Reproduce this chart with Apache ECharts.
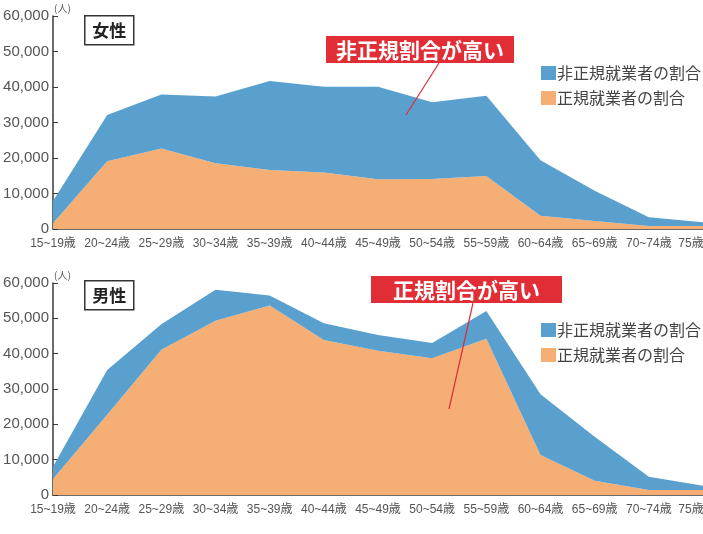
<!DOCTYPE html>
<html>
<head>
<meta charset="utf-8">
<script src="https://cdn.jsdelivr.net/npm/echarts@6/dist/echarts.min.js"></script>
<style>
  html, body { margin: 0; padding: 0; background: #fff; }
  #chart { width: 703px; height: 534px; }
</style>
</head>
<body>
<div id="chart"></div>
<script>
  // 年齢階級
  var ageGroups = ['15~19歳', '20~24歳', '25~29歳', '30~34歳', '35~39歳', '40~44歳', '45~49歳',
    '50~54歳', '55~59歳', '60~64歳', '65~69歳', '70~74歳', '75歳以上'];
  var yTicks = [0, 10000, 20000, 30000, 40000, 50000, 60000];

  // 女性（人）
  var femaleRegular = [1600, 19100, 22700, 18500, 16600, 15900, 14000, 14100, 14900, 3750, 2250, 850, 850];
  var femaleNonRegular = [6300, 13000, 15200, 18800, 25100, 24200, 26100, 21600, 22650, 15650, 8550, 2450, 1050];

  // 男性（人）
  var maleRegular = [4500, 22700, 41100, 49300, 53600, 43900, 40800, 38700, 44200, 11300, 4000, 1400, 1400];
  var maleNonRegular = [3500, 12700, 7250, 8800, 2850, 4700, 4500, 4300, 7900, 17200, 12500, 3800, 1200];

  var blue = '#59a0cf';
  var orange = '#f5ae74';
  var red = '#e02d36';
  var axisColor = '#3a3a3a';
  var labelFont = '"Liberation Sans Narrow", "Liberation Sans", "Noto Sans CJK JP", sans-serif';

  var chart = echarts.init(document.getElementById('chart'));

  function xAxisFor(idx) {
    return {
      type: 'category',
      gridIndex: idx,
      data: ageGroups,
      boundaryGap: false,
      axisLine: { lineStyle: { color: axisColor, width: 1.5 } },
      axisTick: { inside: true, length: 7, lineStyle: { color: axisColor } },
      axisLabel: {
        interval: 0, color: '#555', fontSize: 12, margin: 9,
        fontFamily: labelFont, hideOverlap: false
      }
    };
  }

  function yAxisFor(idx) {
    return {
      type: 'value',
      gridIndex: idx,
      min: 0, max: 60000, interval: 10000,
      splitLine: { show: false },
      axisLine: { show: true, lineStyle: { color: axisColor, width: 1.5 } },
      axisTick: { show: true, inside: true, length: 5, lineStyle: { color: axisColor } },
      axisLabel: {
        color: '#555', fontSize: 15, margin: 4, fontFamily: labelFont,
        formatter: function (v) { return yTicks.indexOf(v) >= 0 ? v.toLocaleString('en-US') : ''; }
      }
    };
  }

  function areaSeries(name, data, idx, color, stack) {
    return {
      name: name,
      type: 'line',
      xAxisIndex: idx,
      yAxisIndex: idx,
      stack: stack,
      data: data,
      symbol: 'none',
      lineStyle: { width: 0 },
      areaStyle: { color: color, opacity: 1 },
      itemStyle: { color: color },
      silent: true
    };
  }

  function legendFor(top) {
    return {
      orient: 'vertical',
      left: 536,
      top: top,
      itemWidth: 15,
      itemHeight: 14,
      itemGap: 9,
      icon: 'rect',
      data: ['非正規就業者の割合', '正規就業者の割合'],
      textStyle: { color: '#444', fontSize: 16, padding: [0, 0, 0, -4],
        fontFamily: '"Noto Sans CJK JP", sans-serif' }
    };
  }

  function titleBox(top, text) {
    return {
      type: 'group',
      left: 84,
      top: top,
      children: [
        { type: 'rect', shape: { x: 0, y: 0, width: 49, height: 29 },
          style: { fill: '#fff', stroke: '#333', lineWidth: 1.5 } },
        { type: 'text', x: 24.5, y: 14.5,
          style: { text: text, fill: '#222', font: 'bold 17px "Noto Sans CJK JP", sans-serif',
            align: 'center', verticalAlign: 'middle' } }
      ]
    };
  }

  function callout(x, y, w, text, lx1, ly1, lx2, ly2) {
    return [
      { type: 'line', shape: { x1: lx1, y1: ly1, x2: lx2, y2: ly2 },
        style: { stroke: red, lineWidth: 1.2 }, z: 10 },
      { type: 'rect', shape: { x: x, y: y, width: w, height: 27 },
        style: { fill: red }, z: 10 },
      { type: 'text', x: x + w / 2, y: y + 14, z: 11,
        style: { text: text, fill: '#fff', font: 'bold 21px "Noto Sans CJK JP", sans-serif',
          align: 'center', verticalAlign: 'middle' } }
    ];
  }

  var option = {
    animation: false,
    backgroundColor: '#fff',
    grid: [
      { left: 53, top: 16, right: 0, height: 213, containLabel: false, outerBoundsMode: 'none' },
      { left: 53, top: 283, right: 0, height: 212, containLabel: false, outerBoundsMode: 'none' }
    ],
    xAxis: [xAxisFor(0), xAxisFor(1)],
    yAxis: [yAxisFor(0), yAxisFor(1)],
    legend: [legendFor(60), legendFor(317)],
    series: [
      areaSeries('正規就業者の割合', femaleRegular, 0, orange, 'f'),
      areaSeries('非正規就業者の割合', femaleNonRegular, 0, blue, 'f'),
      areaSeries('正規就業者の割合', maleRegular, 1, orange, 'm'),
      areaSeries('非正規就業者の割合', maleNonRegular, 1, blue, 'm')
    ],
    graphic: [
      { type: 'text', left: 54, top: 3,
        style: { text: '(人)', fill: '#555', font: '10px "Noto Sans CJK JP", sans-serif' } },
      { type: 'text', left: 54, top: 270,
        style: { text: '(人)', fill: '#555', font: '10px "Noto Sans CJK JP", sans-serif' } },
      titleBox(15, '女性'),
      titleBox(280, '男性')
    ]
      .concat(callout(326, 36, 188, '非正規割合が高い', 439, 63, 406, 115))
      .concat(callout(371, 276, 191, '正規割合が高い', 473, 303, 449, 409))
  };

  chart.setOption(option);
  window.addEventListener('resize', chart.resize);
</script>
</body>
</html>
